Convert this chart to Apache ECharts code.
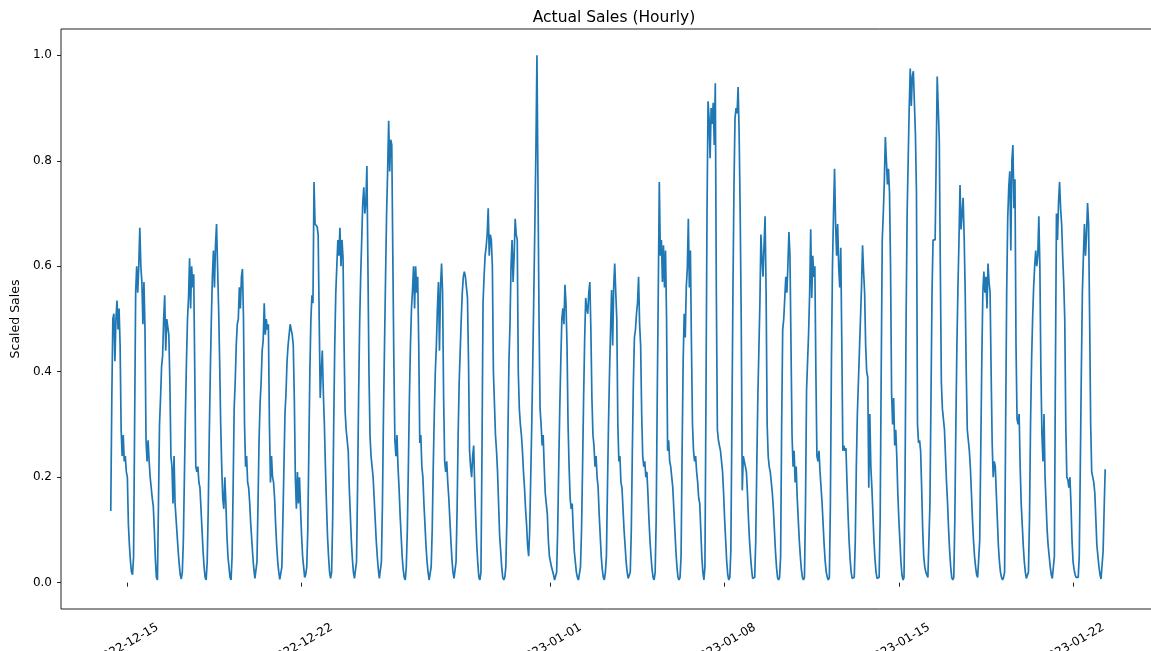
<!DOCTYPE html>
<html>
<head>
<meta charset="utf-8">
<style>
  html, body { margin: 0; padding: 0; background: #fff; }
  #chart { width: 1151px; height: 651px; }
</style>
<script src="https://cdn.jsdelivr.net/npm/echarts@6/dist/echarts.min.js"></script>
</head>
<body>
<div id="chart"></div>
<script>
// ---- Data (hourly scaled sales) ----
// First point: 2022-12-14 08:00, one value per hour.
const startYear = 2022, startMonth = 11, startDay = 14, startHour = 8;

const salesWeek1 = [
  // Dec 14 (08:00-23:00)
  0.136, 0.35, 0.50, 0.51, 0.42, 0.50, 0.535, 0.48, 0.52, 0.45, 0.29, 0.24, 0.28, 0.23, 0.24, 0.21,
  // Dec 15
  0.20, 0.11, 0.07, 0.04, 0.02, 0.015, 0.05, 0.30, 0.55, 0.60, 0.55, 0.60, 0.673, 0.60, 0.57, 0.49, 0.57, 0.48, 0.27, 0.23, 0.27, 0.23, 0.20, 0.18,
  // Dec 16
  0.16, 0.145, 0.10, 0.045, 0.01, 0.005, 0.15, 0.30, 0.35, 0.41, 0.43, 0.50, 0.545, 0.44, 0.50, 0.50, 0.47, 0.38, 0.24, 0.22, 0.15, 0.24, 0.15, 0.12,
  // Dec 17
  0.09, 0.06, 0.035, 0.015, 0.007, 0.02, 0.08, 0.20, 0.32, 0.42, 0.50, 0.54, 0.615, 0.52, 0.60, 0.56, 0.585, 0.40, 0.22, 0.21, 0.22, 0.19, 0.18, 0.14,
  // Dec 18
  0.10, 0.06, 0.03, 0.01, 0.005, 0.04, 0.14, 0.28, 0.40, 0.50, 0.58, 0.63, 0.56, 0.64, 0.68, 0.60, 0.52, 0.42, 0.30, 0.22, 0.16, 0.14, 0.20, 0.15,
  // Dec 19
  0.09, 0.05, 0.03, 0.01, 0.005, 0.05, 0.18, 0.33, 0.38, 0.45, 0.49, 0.50, 0.56, 0.52, 0.58, 0.595, 0.50, 0.30, 0.22, 0.24, 0.19, 0.18, 0.15, 0.11,
  // Dec 20
  0.08, 0.05, 0.025, 0.008, 0.005, 0.04, 0.15, 0.27, 0.34, 0.38, 0.44, 0.46, 0.53, 0.47, 0.50, 0.48, 0.49, 0.30, 0.19, 0.24, 0.20, 0.19, 0.16, 0.11
];
const salesWeek2 = [
  // Dec 21
  0.07, 0.04, 0.02, 0.006, 0.005, 0.03, 0.12, 0.22, 0.32, 0.36, 0.42, 0.45, 0.47, 0.49, 0.48, 0.47, 0.45, 0.35, 0.20, 0.14, 0.21, 0.15, 0.20, 0.14,
  // Dec 22
  0.09, 0.05, 0.03, 0.01, 0.015, 0.03, 0.10, 0.25, 0.40, 0.50, 0.545, 0.53, 0.76, 0.68, 0.68, 0.675, 0.66, 0.50, 0.35, 0.40, 0.44, 0.36, 0.30, 0.22,
  // Dec 23
  0.15, 0.09, 0.05, 0.02, 0.008, 0.02, 0.12, 0.30, 0.45, 0.55, 0.60, 0.65, 0.62, 0.673, 0.60, 0.65, 0.615, 0.45, 0.325, 0.29, 0.27, 0.25, 0.18, 0.13,
  // Dec 24
  0.08, 0.045, 0.02, 0.008, 0.005, 0.04, 0.18, 0.35, 0.49, 0.58, 0.65, 0.72, 0.75, 0.70, 0.72, 0.79, 0.60, 0.40, 0.28, 0.24, 0.22, 0.20, 0.16, 0.12,
  // Dec 25
  0.08, 0.05, 0.025, 0.008, 0.005, 0.04, 0.15, 0.32, 0.45, 0.58, 0.70, 0.78, 0.876, 0.78, 0.84, 0.83, 0.62, 0.42, 0.27, 0.24, 0.28, 0.22, 0.18, 0.13,
  // Dec 26
  0.09, 0.05, 0.025, 0.01, 0.005, 0.03, 0.10, 0.22, 0.35, 0.45, 0.52, 0.555, 0.60, 0.52, 0.60, 0.55, 0.58, 0.45, 0.265, 0.28, 0.22, 0.20, 0.15, 0.11,
  // Dec 27
  0.07, 0.04, 0.02, 0.005, 0.005, 0.03, 0.10, 0.22, 0.32, 0.40, 0.45, 0.52, 0.57, 0.44, 0.56, 0.605, 0.55, 0.35, 0.23, 0.21, 0.23, 0.19, 0.16, 0.12
];
const salesWeek3 = [
  // Dec 28
  0.08, 0.045, 0.02, 0.008, 0.005, 0.04, 0.14, 0.28, 0.38, 0.44, 0.50, 0.55, 0.58, 0.59, 0.58, 0.56, 0.54, 0.42, 0.25, 0.22, 0.20, 0.24, 0.26, 0.18,
  // Dec 29
  0.12, 0.07, 0.035, 0.01, 0.005, 0.02, 0.25, 0.53, 0.58, 0.62, 0.636, 0.66, 0.71, 0.62, 0.66, 0.65, 0.60, 0.40, 0.34, 0.28, 0.25, 0.21, 0.15, 0.09,
  // Dec 30
  0.06, 0.03, 0.01, 0.005, 0.01, 0.03, 0.12, 0.28, 0.42, 0.49, 0.60, 0.65, 0.57, 0.62, 0.69, 0.66, 0.65, 0.40, 0.33, 0.30, 0.28, 0.25, 0.21, 0.18,
  // Dec 31
  0.14, 0.11, 0.07, 0.05, 0.10, 0.20, 0.30, 0.42, 0.55, 0.68, 0.82, 1.0, 0.75, 0.50, 0.33, 0.30, 0.26, 0.28, 0.22, 0.17, 0.15, 0.13, 0.08, 0.05,
  // Jan 1
  0.05, 0.03, 0.03, 0.015, 0.005, 0.005, 0.02, 0.10, 0.22, 0.33, 0.42, 0.50, 0.52, 0.49, 0.565, 0.53, 0.45, 0.30, 0.22, 0.16, 0.14, 0.15, 0.10, 0.06,
  // Jan 2
  0.04, 0.02, 0.01, 0.005, 0.005, 0.03, 0.10, 0.22, 0.35, 0.46, 0.54, 0.52, 0.51, 0.55, 0.57, 0.48, 0.35, 0.28, 0.26, 0.22, 0.24, 0.20, 0.18, 0.13,
  // Jan 3
  0.09, 0.05, 0.025, 0.01, 0.005, 0.02, 0.05, 0.18, 0.30, 0.40, 0.48, 0.555, 0.45, 0.56, 0.605, 0.55, 0.50, 0.30, 0.23, 0.24, 0.19, 0.18, 0.14, 0.10
];
const salesWeek4 = [
  // Jan 4
  0.07, 0.04, 0.02, 0.008, 0.005, 0.02, 0.10, 0.25, 0.38, 0.465, 0.48, 0.51, 0.53, 0.58, 0.49, 0.45, 0.32, 0.24, 0.22, 0.23, 0.20, 0.21, 0.17, 0.12,
  // Jan 5
  0.08, 0.05, 0.025, 0.01, 0.005, 0.02, 0.12, 0.35, 0.55, 0.76, 0.62, 0.65, 0.57, 0.64, 0.56, 0.63, 0.50, 0.25, 0.27, 0.23, 0.22, 0.20, 0.18, 0.14,
  // Jan 6
  0.10, 0.06, 0.03, 0.01, 0.005, 0.01, 0.05, 0.25, 0.42, 0.51, 0.465, 0.56, 0.595, 0.69, 0.56, 0.63, 0.45, 0.30, 0.25, 0.23, 0.24, 0.21, 0.19, 0.16,
  // Jan 7
  0.15, 0.10, 0.05, 0.02, 0.005, 0.03, 0.35, 0.70, 0.913, 0.88, 0.805, 0.90, 0.87, 0.91, 0.83, 0.947, 0.55, 0.29, 0.27, 0.26, 0.25, 0.23, 0.21, 0.17,
  // Jan 8
  0.12, 0.08, 0.04, 0.015, 0.005, 0.01, 0.06, 0.30, 0.55, 0.75, 0.88, 0.90, 0.89, 0.94, 0.85, 0.70, 0.50, 0.175, 0.24, 0.23, 0.22, 0.21, 0.17, 0.12,
  // Jan 9
  0.08, 0.05, 0.025, 0.008, 0.005, 0.01, 0.08, 0.22, 0.35, 0.44, 0.53, 0.66, 0.615, 0.58, 0.64, 0.695, 0.55, 0.30, 0.24, 0.22, 0.21, 0.19, 0.17, 0.14,
  // Jan 10
  0.10, 0.06, 0.03, 0.01, 0.005, 0.01, 0.05, 0.30, 0.48, 0.50, 0.54, 0.58, 0.55, 0.60, 0.665, 0.62, 0.45, 0.28, 0.22, 0.25, 0.19, 0.22, 0.16, 0.12
];
const salesWeek5 = [
  // Jan 11
  0.08, 0.05, 0.025, 0.01, 0.005, 0.01, 0.15, 0.365, 0.42, 0.475, 0.55, 0.67, 0.54, 0.62, 0.58, 0.60, 0.40, 0.24, 0.23, 0.25, 0.21, 0.18, 0.15, 0.11,
  // Jan 12
  0.07, 0.04, 0.02, 0.01, 0.005, 0.01, 0.15, 0.42, 0.60, 0.70, 0.785, 0.68, 0.62, 0.68, 0.60, 0.56, 0.635, 0.45, 0.25, 0.26, 0.25, 0.255, 0.19, 0.13,
  // Jan 13
  0.08, 0.045, 0.02, 0.008, 0.005, 0.01, 0.08, 0.22, 0.32, 0.38, 0.44, 0.50, 0.56, 0.64, 0.59, 0.55, 0.45, 0.40, 0.39, 0.18, 0.32, 0.22, 0.18, 0.13,
  // Jan 14
  0.08, 0.045, 0.02, 0.008, 0.005, 0.01, 0.12, 0.40, 0.65, 0.70, 0.76, 0.845, 0.80, 0.755, 0.785, 0.74, 0.60, 0.36, 0.30, 0.35, 0.26, 0.29, 0.24, 0.17,
  // Jan 15
  0.12, 0.08, 0.04, 0.015, 0.005, 0.01, 0.20, 0.50, 0.70, 0.80, 0.90, 0.975, 0.904, 0.96, 0.97, 0.97, 0.85, 0.74, 0.30, 0.265, 0.27, 0.25, 0.18, 0.10,
  // Jan 16
  0.05, 0.03, 0.02, 0.015, 0.01, 0.01, 0.15, 0.35, 0.55, 0.65, 0.65, 0.65, 0.80, 0.96, 0.90, 0.84, 0.60, 0.38, 0.33, 0.31, 0.29, 0.24, 0.19, 0.15,
  // Jan 17
  0.10, 0.06, 0.03, 0.01, 0.005, 0.01, 0.12, 0.30, 0.45, 0.56, 0.65, 0.754, 0.67, 0.70, 0.73, 0.655, 0.55, 0.40, 0.29, 0.27, 0.25, 0.217, 0.17, 0.12
];
const salesWeek6 = [
  // Jan 18
  0.08, 0.05, 0.03, 0.015, 0.01, 0.01, 0.08, 0.25, 0.42, 0.55, 0.59, 0.55, 0.58, 0.52, 0.605, 0.57, 0.55, 0.40, 0.265, 0.20, 0.23, 0.22, 0.17, 0.12,
  // Jan 19
  0.07, 0.04, 0.02, 0.01, 0.005, 0.01, 0.02, 0.30, 0.55, 0.69, 0.75, 0.78, 0.63, 0.80, 0.83, 0.71, 0.765, 0.45, 0.31, 0.30, 0.32, 0.22, 0.15, 0.11,
  // Jan 20
  0.07, 0.04, 0.02, 0.008, 0.005, 0.02, 0.12, 0.30, 0.42, 0.50, 0.56, 0.60, 0.63, 0.60, 0.62, 0.695, 0.60, 0.40, 0.28, 0.23, 0.32, 0.20, 0.15, 0.10,
  // Jan 21
  0.07, 0.05, 0.03, 0.015, 0.008, 0.005, 0.05, 0.40, 0.70, 0.65, 0.72, 0.76, 0.71, 0.68, 0.62, 0.57, 0.50, 0.30, 0.20, 0.195, 0.18, 0.20, 0.15, 0.08,
  // Jan 22
  0.04, 0.025, 0.015, 0.01, 0.008, 0.01, 0.05, 0.22, 0.40, 0.55, 0.62, 0.68, 0.62, 0.66, 0.72, 0.68, 0.50, 0.30, 0.21, 0.20, 0.19, 0.17, 0.12, 0.07,
  // Jan 23 (00:00-07:00)
  0.05, 0.03, 0.015, 0.007, 0.01, 0.06, 0.14, 0.215
];

// Tick dates (matplotlib AutoDateLocator: days 1, 8, 15, 22)
const tickDates = [[2022, 11, 15], [2022, 11, 22], [2023, 0, 1], [2023, 0, 8], [2023, 0, 15], [2023, 0, 22]];
const yTicks = [0.0, 0.2, 0.4, 0.6, 0.8, 1.0];
// Axis range (matplotlib 5% margins around the data)
const xRangeStart = [2022, 11, 12, 8];
const xRangeEnd = [2023, 0, 25, 8];

// ---- Build ----
const allValues = [].concat(salesWeek1, salesWeek2, salesWeek3, salesWeek4, salesWeek5, salesWeek6);
const t0 = new Date(startYear, startMonth, startDay, startHour).getTime();
const seriesData = allValues.map((v, i) => [t0 + i * 3600000, v]);
const tickValues = tickDates.map(d => new Date(d[0], d[1], d[2]).getTime());
const pad = n => (n < 10 ? '0' : '') + n;
const fmtDate = v => { const d = new Date(v); return d.getFullYear() + '-' + pad(d.getMonth() + 1) + '-' + pad(d.getDate()); };

const FONT = 'DejaVu Sans';
const chart = echarts.init(document.getElementById('chart'), null, { renderer: 'canvas' });
chart.setOption({
  animation: false,
  backgroundColor: '#ffffff',
  title: {
    text: 'Actual Sales (Hourly)',
    left: 609, top: 5, textAlign: 'center',
    textStyle: { fontFamily: FONT, fontSize: 15.5, fontWeight: 'normal', color: '#000' }
  },
  grid: {
    left: 61, right: -5, top: 29, bottom: 42,
    containLabel: false, outerBoundsMode: 'none',
    show: true, borderColor: '#222', borderWidth: 1, backgroundColor: 'transparent'
  },
  xAxis: {
    type: 'value',
    scale: true,
    min: new Date(...xRangeStart).getTime(),
    max: new Date(...xRangeEnd).getTime(),
    axisLine: { show: false },
    splitLine: { show: false },
    axisTick: { show: true, inside: false, length: 4, customValues: tickValues, lineStyle: { color: '#222', width: 1 } },
    axisLabel: {
      customValues: tickValues,
      formatter: v => fmtDate(v),
      rotate: 30, align: 'center', verticalAlign: 'middle', margin: 35,
      fontFamily: FONT, fontSize: 12, color: '#000'
    }
  },
  yAxis: {
    type: 'value',
    min: -0.05, max: 1.05,
    name: 'Scaled Sales', nameLocation: 'middle', nameGap: 36,
    nameTextStyle: { fontFamily: FONT, fontSize: 12.5, color: '#000' },
    axisLine: { show: false },
    splitLine: { show: false },
    axisTick: { show: true, inside: false, length: 4, customValues: yTicks, lineStyle: { color: '#222', width: 1 } },
    axisLabel: {
      customValues: yTicks,
      formatter: v => Number(v).toFixed(1),
      margin: 9, fontFamily: FONT, fontSize: 12, color: '#000'
    }
  },
  series: [{
    type: 'line',
    data: seriesData,
    showSymbol: false,
    symbol: 'none',
    lineStyle: { color: '#1f77b4', width: 1.7 },
    itemStyle: { color: '#1f77b4' }
  }]
});
</script>
</body>
</html>
